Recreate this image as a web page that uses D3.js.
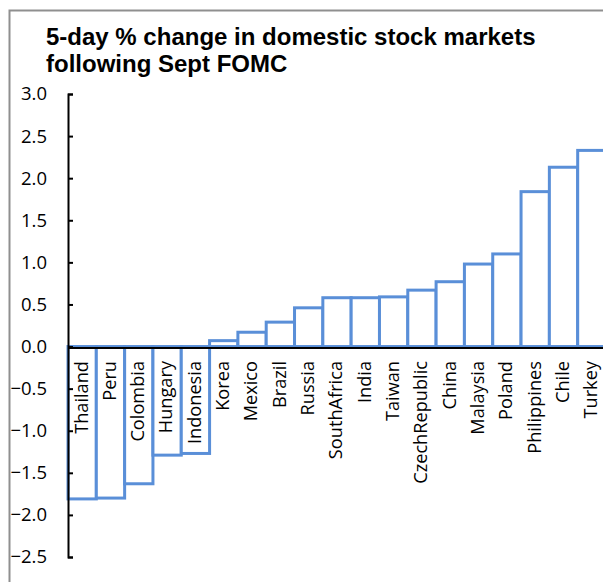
<!DOCTYPE html>
<html>
<head>
<meta charset="utf-8">
<script src="https://cdn.jsdelivr.net/npm/d3@7"></script>
<style>
  body { margin: 0; background: #fff; }
  svg { display: block; }
</style>
</head>
<body>
<svg width="603" height="582"></svg>
<script>
var countries = ['Thailand', 'Peru', 'Colombia', 'Hungary', 'Indonesia', 'Korea', 'Mexico',
  'Brazil', 'Russia', 'SouthAfrica', 'India', 'Taiwan', 'CzechRepublic', 'China',
  'Malaysia', 'Poland', 'Philippines', 'Chile', 'Turkey'];
var changes = [-1.81, -1.80, -1.63, -1.29, -1.27, 0.07, 0.17, 0.29, 0.46, 0.58, 0.58,
  0.59, 0.67, 0.77, 0.98, 1.10, 1.84, 2.13, 2.33];
var yTicks = [3.0, 2.5, 2.0, 1.5, 1.0, 0.5, 0.0, -0.5, -1.0, -1.5, -2.0, -2.5];
var titleLines = ['5-day % change in domestic stock markets', 'following Sept FOMC'];

var svg = d3.select('svg'),
  width = +svg.attr('width'),
  height = +svg.attr('height');

var plotLeft = 68, plotRight = 606, plotTop = 94, plotBottom = 557;
var blue = '#5a8fd8';

// chart frame (only left and top edges fall inside the picture)
svg.append('rect')
  .attr('x', 9.5).attr('y', 10.5)
  .attr('width', 800).attr('height', 800)
  .attr('fill', 'none')
  .attr('stroke', '#8f8f8f')
  .attr('stroke-width', 2);

svg.append('g')
  .selectAll('text')
  .data(titleLines)
  .enter()
  .append('text')
  .attr('x', 46)
  .attr('y', function (d, i) { return 45 + i * 27; })
  .style('font-family', '"Liberation Sans", Arial, sans-serif')
  .style('font-weight', 'bold')
  .style('font-size', '24px')
  .style('fill', '#000')
  .text(function (d) { return d; });

var x = d3.scaleBand().domain(countries).range([plotLeft, plotRight]).padding(0);
var y = d3.scaleLinear().domain([-2.5, 3]).range([plotBottom, plotTop]);

svg.append('g')
  .selectAll('rect')
  .data(countries)
  .enter()
  .append('rect')
  .attr('x', function (d) { return x(d); })
  .attr('width', x.bandwidth())
  .attr('y', function (d, i) { return Math.min(y(changes[i]), y(0)); })
  .attr('height', function (d, i) { return Math.abs(y(changes[i]) - y(0)); })
  .style('fill', '#fff')
  .style('stroke', blue)
  .style('stroke-width', 3);

var yAxis = svg.append('g')
  .attr('transform', 'translate(' + plotLeft + ',0)')
  .call(d3.axisLeft(y).tickValues(yTicks).tickFormat(d3.format('.1f'))
    .tickSizeInner(-5).tickSizeOuter(-5).tickPadding(21));
yAxis.selectAll('path, line').style('stroke', '#000').style('stroke-width', 2);
yAxis.selectAll('text')
  .style('font-family', '"Open Sans", sans-serif')
  .style('font-size', '18.5px')
  .style('fill', '#000');

// zero line
svg.append('line')
  .attr('x1', plotLeft).attr('x2', width)
  .attr('y1', y(0) + 1.5).attr('y2', y(0) + 1.5)
  .style('stroke', '#000')
  .style('stroke-width', 2);

svg.append('g')
  .selectAll('text')
  .data(countries)
  .enter()
  .append('text')
  .attr('transform', function (d) {
    return 'translate(' + (x(d) + x.bandwidth() / 2 - 1) + ',361) rotate(-90)';
  })
  .attr('dy', '0.35em')
  .attr('text-anchor', 'end')
  .style('font-family', '"Open Sans", sans-serif')
  .style('font-size', '18.2px')
  .style('fill', '#000')
  .text(function (d) { return d; });
</script>
</body>
</html>
